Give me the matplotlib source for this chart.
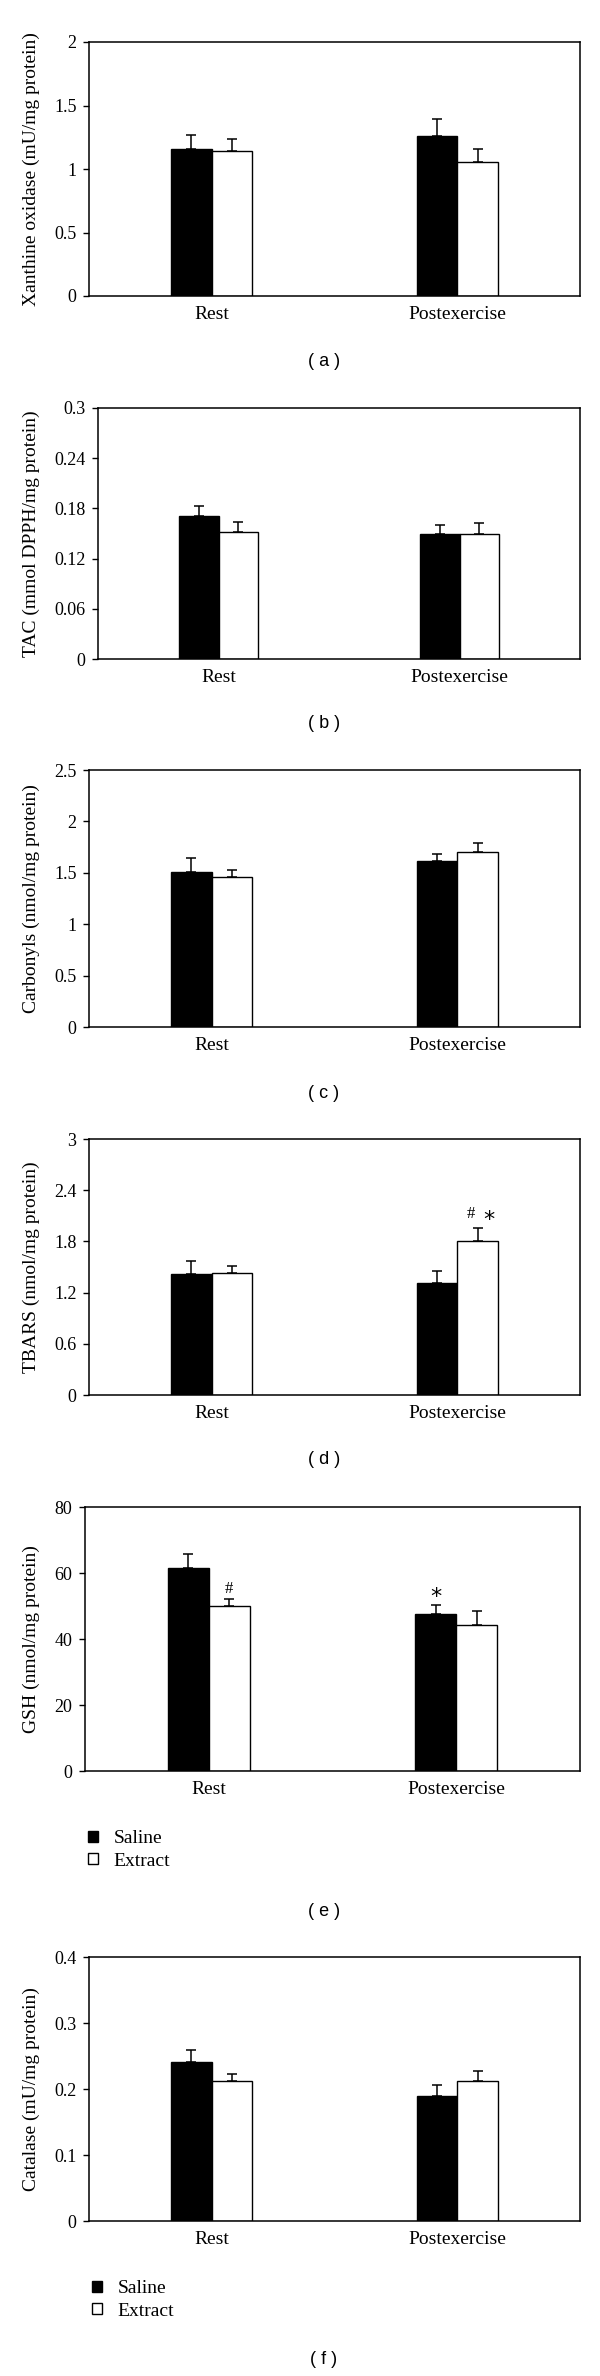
import matplotlib
matplotlib.use("Agg")
import matplotlib.pyplot as plt
import numpy as np

# Dados (média e erro padrão superior)
grupos = ["Rest", "Postexercise"]
series = ["Saline", "Extract"]

xo_saline = [1.16, 1.26]
xo_saline_err = [0.11, 0.135]
xo_extract = [1.14, 1.055]
xo_extract_err = [0.10, 0.10]

tac_saline = [0.171, 0.149]
tac_saline_err = [0.012, 0.011]
tac_extract = [0.152, 0.150]
tac_extract_err = [0.012, 0.013]

carb_saline = [1.51, 1.61]
carb_saline_err = [0.13, 0.075]
carb_extract = [1.455, 1.705]
carb_extract_err = [0.07, 0.085]

tbars_saline = [1.415, 1.315]
tbars_saline_err = [0.15, 0.135]
tbars_extract = [1.425, 1.805]
tbars_extract_err = [0.085, 0.15]

gsh_saline = [61.5, 47.5]
gsh_saline_err = [4.2, 2.8]
gsh_extract = [50.0, 44.3]
gsh_extract_err = [2.0, 4.2]

cat_saline = [0.2406, 0.190]
cat_saline_err = [0.018, 0.016]
cat_extract = [0.212, 0.212]
cat_extract_err = [0.010, 0.015]

ylabels = [
    "Xanthine oxidase (mU/mg protein)",
    "TAC (mmol DPPH/mg protein)",
    "Carbonyls (nmol/mg protein)",
    "TBARS (nmol/mg protein)",
    "GSH (nmol/mg protein)",
    "Catalase (mU/mg protein)",
]
yticks = [
    [0, 0.5, 1, 1.5, 2],
    [0, 0.06, 0.12, 0.18, 0.24, 0.3],
    [0, 0.5, 1, 1.5, 2, 2.5],
    [0, 0.6, 1.2, 1.8, 2.4, 3],
    [0, 20, 40, 60, 80],
    [0, 0.1, 0.2, 0.3, 0.4],
]
painel_letras = ["a", "b", "c", "d", "e", "f"]

W, H = 600, 2376
fig = plt.figure(figsize=(W / 100, H / 100), dpi=100)

serif = "Liberation Serif"
sans = "Liberation Sans"

# posição dos eixos em pixels: (esquerda, topo, base)
layout = [
    (89, 42, 296),
    (98, 408, 659),
    (89, 770, 1027),
    (89, 1139, 1395),
    (85, 1507, 1771),
    (89, 1957, 2221),
]
rotulo_y = [362, 723, 1093, 1460, 1912, 2360]

dados = [
    (xo_saline, xo_saline_err, xo_extract, xo_extract_err),
    (tac_saline, tac_saline_err, tac_extract, tac_extract_err),
    (carb_saline, carb_saline_err, carb_extract, carb_extract_err),
    (tbars_saline, tbars_saline_err, tbars_extract, tbars_extract_err),
    (gsh_saline, gsh_saline_err, gsh_extract, gsh_extract_err),
    (cat_saline, cat_saline_err, cat_extract, cat_extract_err),
]

x = np.arange(len(grupos))
largura = 0.165
right = 580

for i, (sal, sal_err, ext, ext_err) in enumerate(dados):
    left, top, bottom = layout[i]
    ax = fig.add_axes([left / W, 1 - bottom / H, (right - left) / W, (bottom - top) / H])

    eb = dict(ecolor="black", elinewidth=1.1, capsize=3.6, capthick=1.1)
    b1 = ax.bar(x - largura / 2, sal, largura, color="black", edgecolor="black", linewidth=1.0,
                yerr=[np.zeros(len(sal)), sal_err], error_kw=eb, zorder=2)
    b2 = ax.bar(x + largura / 2, ext, largura, color="white", edgecolor="black", linewidth=1.0,
                yerr=[np.zeros(len(ext)), ext_err], error_kw=eb, zorder=2)

    ax.set_xlim(-0.5, 1.5)
    ax.set_ylim(yticks[i][0], yticks[i][-1])
    ax.set_yticks(yticks[i])
    ax.set_yticklabels(["%g" % v for v in yticks[i]], fontfamily=serif, fontsize=13)
    ax.set_xticks(x)
    ax.set_xticklabels(grupos, fontfamily=serif, fontsize=14)
    ax.tick_params(axis="x", length=0, pad=7)
    ax.tick_params(axis="y", direction="out", length=4, width=1.0, pad=5)
    for s in ax.spines.values():
        s.set_linewidth(1.1)

    fig.text(31 / W, 1 - (top + bottom) / 2 / H, ylabels[i], rotation=90, ha="center", va="center",
             fontfamily=serif, fontsize=14)
    fig.text(324 / W, 1 - rotulo_y[i] / H, "( %s )" % painel_letras[i],
             ha="center", va="center", fontfamily=sans, fontsize=13)

    # marcas de significância
    if i == 3:
        ax.text(x[1] + largura / 2 - 0.027, 2.07, "#", ha="center", va="baseline", fontfamily=serif, fontsize=12)
        ax.text(x[1] + largura / 2 + 0.045, 1.98, "*", ha="center", va="baseline", fontfamily="DejaVu Sans", fontsize=16)
    if i == 4:
        ax.text(x[0] + largura / 2, 54.0, "#", ha="center", va="baseline", fontfamily=serif, fontsize=12)
        ax.text(x[1] - largura / 2, 50.8, "*", ha="center", va="baseline", fontfamily="DejaVu Sans", fontsize=16)

    # legenda nos painéis (e) e (f)
    if i in (4, 5):
        leg_top = 1830 if i == 4 else 2280
        fig.legend([b1, b2], series, loc="upper left", bbox_to_anchor=((left + 3) / W, 1 - leg_top / H),
                   frameon=False, prop={"family": serif, "size": 14}, handlelength=0.5, handleheight=0.5,
                   handletextpad=0.8, labelspacing=0.3, borderpad=0, borderaxespad=0)

fig.savefig("out.png", dpi=100)
